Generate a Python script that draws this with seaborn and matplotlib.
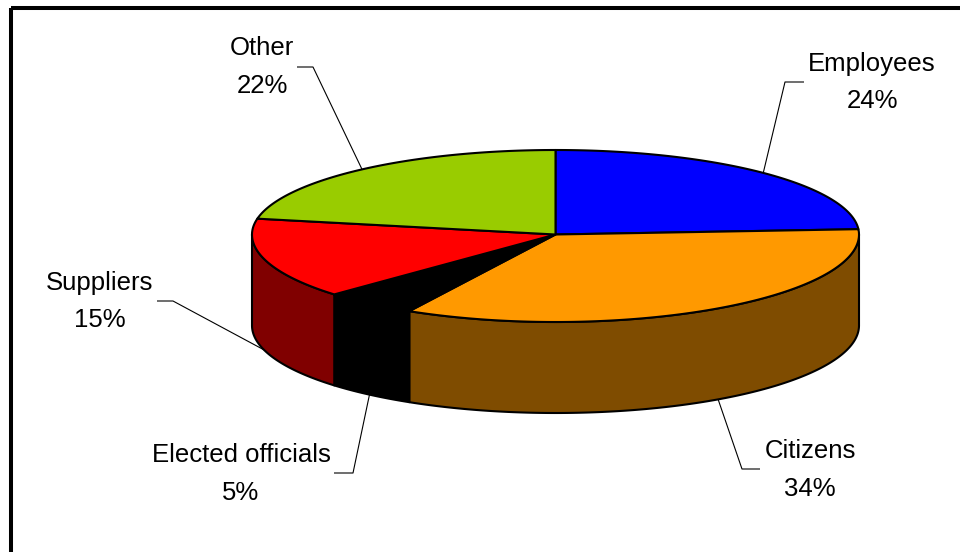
import numpy as np
import matplotlib
matplotlib.use("Agg")
import matplotlib.pyplot as plt
from matplotlib.patches import Polygon, Rectangle
import seaborn as sns

# ---------------- data ----------------
categories = ["Employees", "Citizens", "Elected officials", "Suppliers", "Other"]
shares = [24, 34, 5, 15, 22]
top_colors = ["#0000FF", "#FF9900", "#000000", "#FF0000", "#99CC00"]
side_colors = ["#000080", "#7F4C00", "#000000", "#800000", "#4C6600"]

# ---------------- layout ----------------
sns.set_theme(style="white")
plt.rcParams['font.family'] = ['Liberation Sans', 'DejaVu Sans']

W, H = 960, 552
fig = plt.figure(figsize=(W / 100, H / 100), dpi=100)
ax = fig.add_axes([0, 0, 1, 1])
ax.set_xlim(0, W)
ax.set_ylim(H, 0)
ax.axis('off')

# slight perspective: back half a bit flatter than front half
cx, cy, rx = 555.5, 234.5, 303.5
ry_back, ry_front, depth = 84.5, 87.5, 91.0
edge_lw = 1.5

# label placement (text centre x, baselines of both lines, leader hook)
label_layout = {
    "Employees":         dict(x=872, b1=71,  b2=108, hx=(804, 785), hy=82),
    "Citizens":          dict(x=810, b1=458, b2=496, hx=(760, 742), hy=469),
    "Elected officials": dict(x=241, b1=462, b2=500, hx=(334, 353), hy=473),
    "Suppliers":         dict(x=100, b1=290, b2=327, hx=(157, 173), hy=301),
    "Other":             dict(x=262, b1=55,  b2=93,  hx=(297, 313), hy=67),
}


def ellipse_pts(theta_deg, dz=0.0):
    t = np.radians(theta_deg)
    s = np.sin(t)
    ry = np.where(s >= 0, ry_back, ry_front)
    return cx + rx * np.cos(t), cy - ry * s + dz


total = float(sum(shares))
bounds = 90.0 - 360.0 * np.concatenate([[0.0], np.cumsum(shares)]) / total

# outer chart border (only top/left visible as in reference)
ax.add_patch(Rectangle((11, 8), 2000, 2000, fill=False, lw=2.9,
                       edgecolor="black", zorder=0))

# side walls (front half only)
for i in range(len(shares)):
    a0, a1 = bounds[i], bounds[i + 1]
    hi, lo = min(a0, 0.0), max(a1, -180.0)
    if hi <= lo:
        continue
    th = np.linspace(hi, lo, 200)
    xt, yt = ellipse_pts(th)
    xb, yb = ellipse_pts(th[::-1], depth)
    verts = np.column_stack([np.concatenate([xt, xb]), np.concatenate([yt, yb])])
    ax.add_patch(Polygon(verts, closed=True, facecolor=side_colors[i],
                         edgecolor="black", lw=edge_lw, joinstyle="round", zorder=1))

# top faces
for i in range(len(shares)):
    a0, a1 = bounds[i], bounds[i + 1]
    th = np.linspace(a0, a1, 200)
    xt, yt = ellipse_pts(th)
    verts = np.vstack([[cx, cy], np.column_stack([xt, yt])])
    ax.add_patch(Polygon(verts, closed=True, facecolor=top_colors[i],
                         edgecolor="black", lw=edge_lw, joinstyle="round", zorder=2))

# labels with leader lines
for i, name in enumerate(categories):
    lay = label_layout[name]
    mid = (bounds[i] + bounds[i + 1]) / 2.0
    dz = depth if np.sin(np.radians(mid)) < 0 else 0.0
    ax_, ay_ = ellipse_pts(mid, dz)
    ax.plot([lay["hx"][0], lay["hx"][1], float(ax_)], [lay["hy"], lay["hy"], float(ay_)],
            color="black", lw=0.8, zorder=3, solid_capstyle="butt")
    ax.text(lay["x"], lay["b1"], name, ha="center", va="baseline",
            fontsize=18.5, color="black", zorder=4)
    ax.text(lay["x"], lay["b2"], f"{shares[i]}%", ha="center", va="baseline",
            fontsize=18.5, color="black", zorder=4)

fig.savefig("out.png", dpi=100, facecolor="white")
